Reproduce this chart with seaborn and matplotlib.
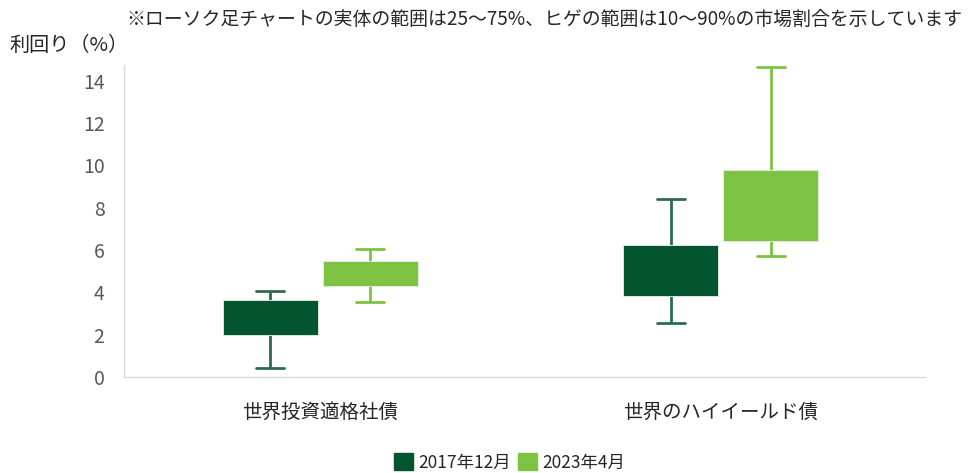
import numpy as np
import pandas as pd
import matplotlib
matplotlib.use("Agg")
import matplotlib.pyplot as plt
import seaborn as sns
from matplotlib.patches import Patch

sns.set_theme(style="white")
plt.rcParams["font.family"] = ["Noto Sans CJK JP", "DejaVu Sans"]

# ---------------------------------------------------------------------------
# Data (yield %)
# ---------------------------------------------------------------------------
categories = ["世界投資適格社債", "世界のハイイールド債"]
periods = ["2017年12月", "2023年4月"]

# per series: 10th pct, 25th pct, median (not drawn), 75th pct, 90th pct
ig_2017 = [0.43, 1.99, 2.8, 3.64, 4.07]
ig_2023 = [3.55, 4.30, 4.9, 5.49, 6.05]
hy_2017 = [2.55, 3.83, 5.0, 6.24, 8.42]
hy_2023 = [5.72, 6.43, 8.0, 9.79, 14.66]

colors = ["#03552F", "#7DC242"]
line_colors = ["#2C6B4C", "#7DC242"]

title_note = "※ローソク足チャートの実体の範囲は25～75%、ヒゲの範囲は10～90%の市場割合を示しています"
ylabel = "利回り（%）"

series = {
    (categories[0], periods[0]): ig_2017,
    (categories[0], periods[1]): ig_2023,
    (categories[1], periods[0]): hy_2017,
    (categories[1], periods[1]): hy_2023,
}
rows = [
    {"category": c, "period": p, "value": v}
    for (c, p), vals in series.items()
    for v in vals
]
df = pd.DataFrame(rows)

# ---------------------------------------------------------------------------
# Plot
# ---------------------------------------------------------------------------
fig = plt.figure(figsize=(9.73, 4.73), dpi=100)
ax = fig.add_axes([0.1274, 0.203, 0.8233, 0.660])

sns.boxplot(
    data=df,
    x="category",
    y="value",
    hue="period",
    order=categories,
    hue_order=periods,
    palette=colors,
    whis=(0, 100),
    width=0.5,
    gap=0.05,
    showfliers=False,
    linewidth=1.6,
    legend=False,
    ax=ax,
)

# recolor boxes / whiskers per series, hide median
for cont, fc, lc in zip(ax.containers, colors, line_colors):
    for box in cont.boxes:
        box.set_facecolor(fc)
        box.set_edgecolor("#e8f0e8")
        box.set_linewidth(0.6)
        box.set_zorder(3)
    for ln in list(cont.whiskers) + list(cont.caps):
        ln.set_color(lc)
        ln.set_linewidth(2.0)
        ln.set_zorder(2)
    for ln in cont.medians:
        ln.set_visible(False)
    # shorten caps
    for cap in cont.caps:
        x0, x1 = cap.get_xdata()
        mid = (x0 + x1) / 2
        half = 0.035
        cap.set_xdata([mid - half, mid + half])

ax.set_xlim(-0.49, 1.51)
ax.set_ylim(0, 14.75)
ax.set_yticks(range(0, 15, 2))
ax.tick_params(axis="y", length=0, labelsize=14, labelcolor="#595959", pad=14)
ax.tick_params(axis="x", length=0, labelsize=14, labelcolor="#262626", pad=18)
ax.set_xlabel("")
ax.set_ylabel("")

for side in ["top", "right"]:
    ax.spines[side].set_visible(False)
for side in ["left", "bottom"]:
    ax.spines[side].set_color("#d9d9d9")
    ax.spines[side].set_linewidth(1.0)

fig.text(0.1295, 0.958, title_note, fontsize=13.6, color="#262626", va="center", ha="left")
fig.text(0.010, 0.903, ylabel, fontsize=14.5, color="#262626", va="center", ha="left")

handles = [Patch(facecolor=c, edgecolor=c) for c in colors]
fig.legend(
    handles,
    periods,
    loc="center",
    bbox_to_anchor=(0.524, 0.022),
    ncol=2,
    frameon=False,
    fontsize=12.5,
    handlelength=1.1,
    handleheight=1.1,
    handletextpad=0.3,
    columnspacing=0.4,
)

fig.savefig("out.png", dpi=100)
